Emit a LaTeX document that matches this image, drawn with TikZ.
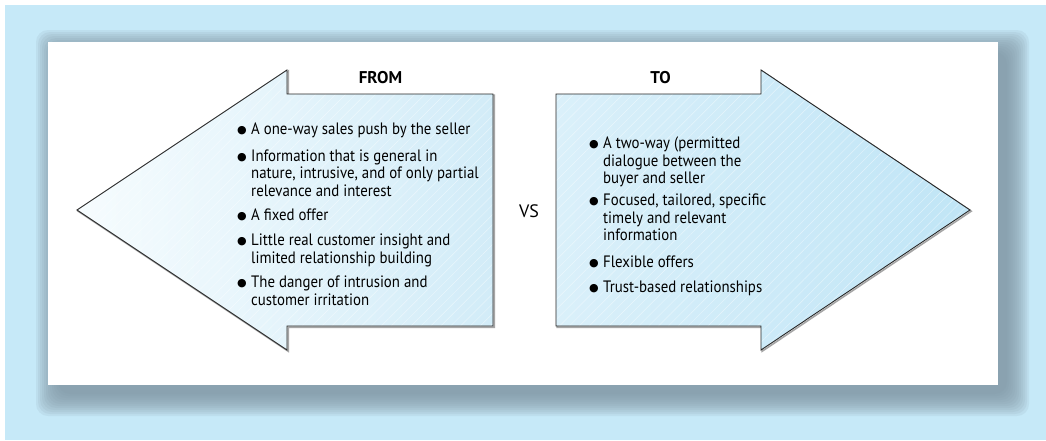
\documentclass[tikz,border=0pt]{standalone}
\usepackage{fontspec}
\setmainfont[FakeStretch=0.9]{PT Sans}
\newfontfamily\headfont{PT Sans}
\newfontfamily\symfont{DejaVu Sans}
\usetikzlibrary{patterns.meta}
\definecolor{bg}{HTML}{C6E9F8}
\definecolor{shad}{HTML}{7E93A1}
\definecolor{edgec}{HTML}{262626}
\definecolor{lA}{HTML}{F6FCFE}
\definecolor{lB}{HTML}{D2ECF8}
\definecolor{rA}{HTML}{DAF0FA}
\definecolor{rB}{HTML}{C0E5F6}
\newcommand{\bm}{\raisebox{0.6pt}{\fontsize{11}{11}\symfont ●}}
\newcommand{\bitem}[1]{\begin{tabular}[t]{@{}p{14pt}@{}l@{}}#1\end{tabular}}
\tikzset{
  arrowshape/.style={draw=edgec, line width=0.9pt},
  arrowshadow/.style={draw=black!35, line width=1.6pt},
  hatch/.style={pattern={Lines[angle=45,distance=7pt,line width=0.45pt]}, pattern color=white, opacity=0.5},
  listitem/.style={anchor=base west, inner sep=0pt, font=\fontsize{16.5}{17.5}\selectfont},
  head/.style={font=\fontsize{17}{18}\selectfont\headfont\bfseries, inner sep=0pt, anchor=base},
}
\begin{document}
\begin{tikzpicture}[x=1pt,y=-1pt]
\useasboundingbox (0,0) rectangle (1046,440);
\fill[white] (0,0) rectangle (1046,440);
\fill[bg] (5,5) rectangle (1046,440);
% soft shadow
\foreach \k in {22,20,...,0}{
  \fill[shad, opacity=0.12, rounded corners=12pt] (58-\k,52-\k) rectangle (1007+\k,394+\k);
}
\fill[white] (48,42) rectangle (998,385);
% left arrow
\path[arrowshadow, shift={(1.2,1.2)}] (77,210) -- (287,70) -- (287,94) -- (493,94) -- (493,326) -- (287,326) -- (287,350) -- cycle;
\path[left color=lA, right color=lB] (77,210) -- (287,70) -- (287,94) -- (493,94) -- (493,326) -- (287,326) -- (287,350) -- cycle;
\path[hatch] (77,210) -- (287,70) -- (287,94) -- (493,94) -- (493,326) -- (287,326) -- (287,350) -- cycle;
\draw[arrowshape] (77,210) -- (287,70) -- (287,94) -- (493,94) -- (493,326) -- (287,326) -- (287,350) -- cycle;
% right arrow
\path[arrowshadow, shift={(1.2,1.2)}] (556,94) -- (761,94) -- (761,70) -- (970,210) -- (761,350) -- (761,326) -- (556,326) -- cycle;
\path[left color=rA, right color=rB] (556,94) -- (761,94) -- (761,70) -- (970,210) -- (761,350) -- (761,326) -- (556,326) -- cycle;
\path[hatch] (556,94) -- (761,94) -- (761,70) -- (970,210) -- (761,350) -- (761,326) -- (556,326) -- cycle;
\draw[arrowshape] (556,94) -- (761,94) -- (761,70) -- (970,210) -- (761,350) -- (761,326) -- (556,326) -- cycle;
% labels
\node[head] (from) at (380.5,83) {FROM};
\node[head] (to) at (660.5,83) {TO};
\node[font=\fontsize{18}{18}\selectfont\headfont, inner sep=0pt, anchor=base] (vs) at (529,217) {VS};
% FROM list
\node[listitem] (f1) at (237,134.5) {\bitem{\bm & A one-way sales push by the seller}};
\node[listitem] (f2) at (237,161) {\bitem{\bm & Information that is general in\\ & nature, intrusive, and of only partial\\ & relevance and interest}};
\node[listitem] (f3) at (237,220.5) {\bitem{\bm & A fixed offer}};
\node[listitem] (f4) at (237,245.5) {\bitem{\bm & Little real customer insight and\\ & limited relationship building}};
\node[listitem] (f5) at (237,287.5) {\bitem{\bm & The danger of intrusion and\\ & customer irritation}};
% TO list
\node[listitem] (t1) at (589,148.5) {\bitem{\bm & A two-way (permitted\\ & dialogue between the\\ & buyer and seller}};
\node[listitem] (t2) at (589,205.5) {\bitem{\bm & Focused, tailored, specific\\ & timely and relevant\\ & information}};
\node[listitem] (t3) at (589,267.5) {\bitem{\bm & Flexible offers}};
\node[listitem] (t4) at (589,292.5) {\bitem{\bm & Trust-based relationships}};
\end{tikzpicture}
\end{document}
